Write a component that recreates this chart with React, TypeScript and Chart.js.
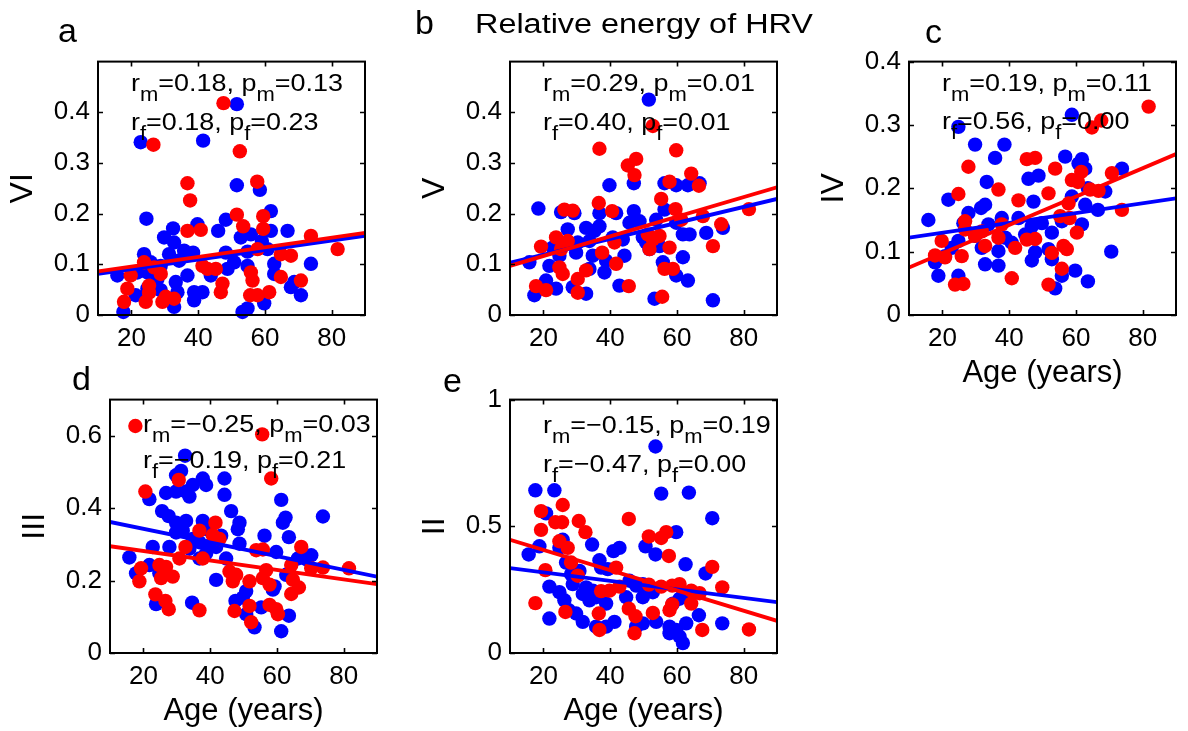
import React, { useEffect, useRef } from "react";
import { Chart, registerables } from "chart.js";

Chart.register(...registerables);

const FONT = '"Liberation Sans", Arial, Helvetica, sans-serif';

// ---------- shared axis data ----------
const AGE_RANGE = [10, 90];
const AGE_TICKS = [20, 40, 60, 80];

// ---------- panel a : VI ----------
const A_MALE: number[][] = [[22.8,0.341],[41.5,0.344],[51.6,0.416],[51.6,0.256],[58.5,0.247],[24.5,0.19],[39.8,0.179],[32.5,0.171],[48.3,0.188],[46,0.166],[61.8,0.205],[61.8,0.166],[66.8,0.166],[29.8,0.153],[32.8,0.143],[52.8,0.153],[55.8,0.159],[59.1,0.146],[60.8,0.13],[35.8,0.127],[38.5,0.123],[23.8,0.12],[48.3,0.123],[54.8,0.125],[50.8,0.104],[25.8,0.104],[34.3,0.107],[62.8,0.101],[73.8,0.101],[15.8,0.078],[21.8,0.084],[27.8,0.071],[33.3,0.065],[36.8,0.078],[62.8,0.081],[68.8,0.065],[21.3,0.039],[24.8,0.052],[28.8,0.049],[33.8,0.045],[38.8,0.045],[41.3,0.045],[38.8,0.029],[32.8,0.016],[17.6,0.006],[53.3,0.006],[54.8,0.013],[59.8,0.023],[70.8,0.039],[31.3,0.12],[28.8,0.097],[43.8,0.078],[48.8,0.091],[54.8,0.097],[67.8,0.055],[24.8,0.084]];
const A_FEMALE: number[][] = [[47.6,0.418],[26.6,0.336],[52.5,0.323],[36.8,0.26],[57.7,0.263],[37.6,0.226],[51.6,0.198],[59.5,0.195],[53.5,0.175],[36.8,0.166],[40.8,0.168],[59.5,0.17],[73.8,0.156],[81.8,0.13],[57.8,0.13],[64.8,0.12],[67.8,0.117],[23.8,0.104],[26.8,0.094],[28.8,0.081],[41.3,0.097],[45.3,0.091],[19.8,0.078],[18.8,0.052],[25.3,0.058],[25.3,0.044],[30.3,0.036],[32.8,0.032],[46.8,0.045],[47.3,0.062],[55.8,0.084],[56.3,0.068],[55.6,0.039],[57.8,0.039],[61.3,0.045],[64.8,0.075],[70.8,0.068],[17.8,0.026],[24.3,0.026],[42.8,0.091],[29.3,0.026]];
const A_FIT_M = [0.081, 0.156];
const A_FIT_F = [0.086, 0.162];
const A_STATS = ["0.18", "0.13", "0.18", "0.23"];
const A_YTICKS = [0, 0.1, 0.2, 0.3, 0.4];

// ---------- panel b : V ----------
const B_MALE: number[][] = [[51.6,0.425],[18.5,0.21],[25.3,0.203],[29.3,0.201],[39.8,0.256],[47.1,0.26],[56.3,0.26],[59.8,0.256],[63.3,0.256],[66.8,0.26],[36.8,0.201],[41.8,0.201],[47.1,0.205],[56.3,0.208],[27.3,0.169],[32.8,0.172],[35.3,0.166],[36.8,0.175],[45.8,0.182],[48.8,0.185],[53.8,0.188],[59.8,0.182],[61.8,0.159],[63.8,0.159],[68.8,0.162],[73.8,0.172],[22.8,0.133],[30.3,0.143],[33.8,0.146],[40.8,0.153],[43.8,0.149],[49.8,0.153],[50.8,0.143],[15.8,0.104],[21.8,0.097],[24.8,0.117],[29.8,0.123],[34.8,0.117],[44.3,0.117],[51.8,0.13],[61.8,0.114],[20.8,0.068],[23.8,0.052],[28.8,0.055],[33.8,0.091],[38.3,0.084],[42.8,0.058],[59.8,0.078],[63.3,0.068],[17.3,0.039],[32.8,0.042],[53.3,0.032],[70.8,0.029],[38.8,0.107],[54.8,0.136],[55.8,0.104]];
const B_FEMALE: number[][] = [[52.8,0.373],[36.8,0.328],[59.8,0.325],[45.3,0.295],[47.8,0.308],[47.3,0.276],[64.3,0.279],[66.6,0.255],[57.8,0.263],[26.3,0.208],[28.8,0.206],[36.6,0.221],[40.6,0.205],[55.3,0.229],[59.6,0.209],[61.3,0.188],[67.8,0.195],[81.6,0.209],[73.3,0.179],[23.8,0.153],[27.3,0.146],[19.3,0.135],[25.3,0.13],[51.3,0.159],[54.8,0.156],[52.8,0.149],[41.3,0.143],[51.8,0.13],[57.8,0.133],[70.8,0.136],[37.6,0.123],[41.8,0.101],[24.8,0.094],[25.8,0.081],[56.3,0.091],[58.8,0.091],[32.8,0.088],[30.3,0.071],[17.8,0.057],[20.8,0.049],[30.3,0.044],[45.6,0.057],[55.6,0.036]];
const B_FIT_M = [0.103, 0.229];
const B_FIT_F = [0.097, 0.252];
const B_STATS = ["0.29", "0.01", "0.40", "0.01"];
const B_YTICKS = [0, 0.1, 0.2, 0.3, 0.4];

// ---------- panel c : IV ----------
const C_MALE: number[][] = [[58.8,0.316],[24.8,0.297],[29.8,0.269],[38.6,0.269],[35.8,0.248],[56.8,0.25],[61.8,0.246],[60.8,0.239],[62.8,0.231],[73.8,0.231],[45.8,0.215],[48.8,0.22],[33.3,0.21],[63.6,0.2],[68.8,0.195],[21.8,0.182],[47.3,0.179],[58.8,0.187],[32.8,0.174],[31.6,0.169],[62.8,0.174],[66.6,0.166],[15.8,0.15],[27.8,0.161],[26.3,0.145],[33.8,0.143],[37.8,0.153],[42.8,0.153],[46.8,0.14],[49.8,0.145],[55.8,0.148],[61.8,0.143],[29.8,0.125],[38.8,0.122],[44.8,0.127],[52.8,0.13],[24.8,0.117],[22.8,0.106],[31.8,0.106],[36.8,0.101],[40.8,0.114],[47.8,0.099],[51.8,0.104],[17.8,0.083],[20.8,0.093],[32.8,0.08],[36.8,0.078],[46.8,0.086],[52.8,0.088],[70.6,0.1],[18.8,0.062],[24.8,0.062],[59.8,0.07],[53.8,0.042],[63.6,0.053],[55.8,0.062]];
const C_FEMALE: number[][] = [[81.8,0.329],[67.6,0.307],[64.8,0.296],[45.3,0.246],[47.8,0.248],[27.8,0.234],[53.8,0.231],[61.6,0.226],[70.8,0.224],[58.8,0.213],[60.6,0.21],[24.8,0.191],[36.8,0.198],[51.8,0.192],[42.8,0.181],[64.3,0.198],[66.8,0.196],[73.8,0.166],[57.8,0.176],[55.3,0.156],[58.1,0.153],[60.3,0.13],[26.8,0.148],[26.8,0.135],[31.8,0.132],[29.8,0.125],[37.8,0.143],[36.8,0.122],[32.8,0.109],[41.8,0.106],[45.3,0.119],[47.8,0.12],[56.3,0.109],[57.3,0.104],[19.8,0.117],[17.8,0.094],[20.8,0.091],[25.8,0.093],[52.8,0.098],[55.8,0.073],[40.8,0.058],[23.8,0.048],[26.3,0.049],[51.8,0.048]];
const C_FIT_M = [0.122, 0.184];
const C_FIT_F = [0.075, 0.254];
const C_STATS = ["0.19", "0.11", "0.56", "0.00"];
const C_YTICKS = [0, 0.1, 0.2, 0.3, 0.4];

// ---------- panel d : III ----------
const D_MALE: number[][] = [[32.5,0.545],[31.3,0.503],[29.8,0.491],[37.8,0.482],[44.3,0.482],[38.8,0.464],[34.8,0.464],[32.8,0.446],[26.8,0.442],[29.8,0.446],[21.8,0.425],[33.8,0.432],[44.3,0.437],[61.3,0.423],[25.6,0.392],[27.6,0.378],[46.3,0.392],[62.6,0.374],[61.8,0.36],[73.8,0.377],[29.8,0.36],[32.8,0.365],[37.8,0.365],[48.8,0.36],[48.3,0.342],[29.8,0.333],[31.8,0.338],[38.8,0.342],[43.3,0.324],[56.3,0.324],[63.6,0.32],[34.8,0.315],[36.8,0.306],[39.8,0.297],[48.8,0.302],[22.8,0.293],[27.8,0.293],[33.8,0.288],[41.8,0.293],[59.8,0.279],[15.8,0.264],[36.8,0.261],[38.8,0.275],[44.8,0.261],[66.3,0.261],[70.3,0.27],[68.8,0.259],[17.8,0.22],[21.8,0.243],[24.8,0.22],[41.8,0.202],[62.8,0.216],[58.8,0.175],[59.3,0.184],[50.8,0.171],[49.8,0.153],[47.6,0.144],[23.8,0.135],[34.6,0.139],[55.3,0.126],[50.8,0.107],[53.3,0.071],[63.6,0.103],[61.3,0.06]];
const D_FEMALE: number[][] = [[17.6,0.627],[55.6,0.604],[58.3,0.482],[30.6,0.478],[20.6,0.446],[41.6,0.36],[36.8,0.338],[40.8,0.326],[42.8,0.315],[32.6,0.293],[67.3,0.293],[55.8,0.286],[53.8,0.284],[37.8,0.261],[30.8,0.261],[24.8,0.243],[26.8,0.238],[64.3,0.243],[70.3,0.234],[73.8,0.236],[81.6,0.234],[19.3,0.234],[28.8,0.211],[45.8,0.225],[47.8,0.216],[56.8,0.229],[25.3,0.207],[18.8,0.198],[46.8,0.198],[51.8,0.198],[55.8,0.207],[57.8,0.189],[64.8,0.202],[66.6,0.181],[64.3,0.163],[23.6,0.162],[26.6,0.144],[27.6,0.121],[36.8,0.118],[47.3,0.116],[51.8,0.13],[57.8,0.133],[59.8,0.121],[60.3,0.107],[52.3,0.085]];
const D_FIT_M = [0.362, 0.211];
const D_FIT_F = [0.295, 0.19];
const D_STATS = ["\u22120.25", "0.03", "\u22120.19", "0.21"];
const D_YTICKS = [0, 0.2, 0.4, 0.6];

// ---------- panel e : II ----------
const E_MALE: number[][] = [[53.6,0.815],[17.6,0.642],[23.3,0.642],[55.3,0.629],[63.6,0.633],[70.6,0.532],[20.8,0.551],[59.8,0.477],[25.8,0.447],[50.6,0.421],[53.6,0.389],[42.8,0.415],[41,0.402],[34.6,0.428],[15.6,0.389],[18.8,0.421],[24.8,0.415],[36.8,0.366],[62.6,0.35],[68.6,0.314],[26.8,0.357],[28.3,0.311],[30.8,0.324],[37.3,0.337],[39.3,0.331],[45.8,0.285],[47.8,0.266],[49.8,0.272],[21.8,0.262],[24.8,0.24],[28.8,0.272],[32.8,0.259],[34.8,0.246],[31.8,0.233],[33.8,0.208],[35.8,0.22],[26.3,0.208],[38.8,0.195],[44.8,0.22],[49.8,0.22],[52.8,0.24],[58.8,0.195],[60.8,0.214],[64.3,0.233],[27.6,0.169],[21.8,0.136],[29.8,0.156],[31.8,0.123],[41.3,0.123],[38.8,0.104],[47.8,0.104],[49.8,0.117],[53.8,0.123],[57.8,0.104],[59.8,0.091],[62.8,0.117],[66.6,0.149],[73.6,0.117],[61.8,0.039],[60.8,0.065],[57.8,0.078],[35.8,0.104]];
const E_FEMALE: number[][] = [[25.8,0.584],[19.3,0.56],[23.6,0.516],[25.6,0.516],[30.6,0.521],[45.6,0.529],[19.3,0.486],[32.6,0.477],[56.8,0.477],[55.3,0.454],[51.6,0.46],[24.8,0.441],[27.3,0.415],[57.6,0.383],[28.3,0.357],[20.6,0.327],[30.3,0.305],[41.8,0.337],[70.6,0.34],[51.6,0.27],[55.3,0.262],[42.8,0.262],[37.3,0.244],[39.8,0.246],[58.6,0.266],[60.8,0.272],[64.3,0.246],[66.8,0.236],[73.6,0.259],[17.6,0.197],[26.6,0.162],[36.6,0.156],[45.6,0.175],[47.6,0.145],[52.8,0.158],[57.8,0.169],[58.6,0.192],[64.3,0.195],[36.8,0.091],[47.3,0.078],[67.6,0.091],[81.6,0.093]];
const E_FIT_M = [0.335, 0.201];
const E_FIT_F = [0.447, 0.127];
const E_STATS = ["\u22120.15", "0.19", "\u22120.47", "0.00"];
const E_YTICKS = [0, 0.5, 1];

// ---------- layout (positions only) ----------
const PLOT_W = 267;
const PLOT_H = 257;
const YW = 98;
const TP = 20;
const RP = 12;
const XH = 75;
const BLUE = "#0000FF";
const RED = "#FF0000";

type PanelSpec = {
  letter: string;
  roman: string;
  male: number[][];
  female: number[][];
  fitM: number[];
  fitF: number[];
  stats: string[];
  yTicks: number[];
  yMax: number;
  ageTitle: boolean;
  left: number;
  top: number;
  textBase: number[];
};

const PANELS: PanelSpec[] = [
  { letter: "a", roman: "VI", male: A_MALE, female: A_FEMALE, fitM: A_FIT_M, fitF: A_FIT_F, stats: A_STATS, yTicks: A_YTICKS, yMax: 0.5, ageTitle: false, left: 98, top: 58, textBase: [29, 68.5] },
  { letter: "b", roman: "V", male: B_MALE, female: B_FEMALE, fitM: B_FIT_M, fitF: B_FIT_F, stats: B_STATS, yTicks: B_YTICKS, yMax: 0.5, ageTitle: false, left: 510, top: 58, textBase: [29, 68.5] },
  { letter: "c", roman: "IV", male: C_MALE, female: C_FEMALE, fitM: C_FIT_M, fitF: C_FIT_F, stats: C_STATS, yTicks: C_YTICKS, yMax: 0.4, ageTitle: true, left: 909, top: 58, textBase: [29, 67] },
  { letter: "d", roman: "III", male: D_MALE, female: D_FEMALE, fitM: D_FIT_M, fitF: D_FIT_F, stats: D_STATS, yTicks: D_YTICKS, yMax: 0.7, ageTitle: true, left: 110, top: 396, textBase: [32, 68.5] },
  { letter: "e", roman: "II", male: E_MALE, female: E_FEMALE, fitM: E_FIT_M, fitF: E_FIT_F, stats: E_STATS, yTicks: E_YTICKS, yMax: 1, ageTitle: true, left: 510, top: 396, textBase: [33.5, 72] },
];

const LETTERS = [
  { t: "a", left: 58, baseline: 42 },
  { t: "b", left: 415, baseline: 33.5 },
  { t: "c", left: 925, baseline: 43 },
  { t: "d", left: 72, baseline: 390 },
  { t: "e", left: 443, baseline: 392 },
];

const framePlugin = {
  id: "frame",
  afterDatasetsDraw(chart: any, _args: any, opts: any) {
    const { ctx, chartArea } = chart;
    const { left, top, right, bottom } = chartArea;
    const xs = chart.scales.x;
    const ys = chart.scales.y;
    ctx.save();
    ctx.strokeStyle = "#000";
    ctx.lineWidth = 1.6;
    ctx.beginPath();
    for (const t of xs.ticks) {
      const px = Math.round(xs.getPixelForValue(t.value)) + 0.5;
      ctx.moveTo(px, bottom);
      ctx.lineTo(px, bottom - 5);
      ctx.moveTo(px, top);
      ctx.lineTo(px, top + 5);
    }
    for (const t of ys.ticks) {
      const py = Math.round(ys.getPixelForValue(t.value)) + 0.5;
      ctx.moveTo(left, py);
      ctx.lineTo(left + 5, py);
      ctx.moveTo(right, py);
      ctx.lineTo(right - 5, py);
    }
    ctx.stroke();
    ctx.lineWidth = 2;
    ctx.strokeRect(left, top, right - left, bottom - top);

    // annotation text with subscripts
    const s: string[] = opts.stats;
    const lines = [
      { segs: [["r", 0], ["m", 1], ["=" + s[0] + ", p", 0], ["m", 1], ["=" + s[1], 0]], base: opts.textBase[0] },
      { segs: [["r", 0], ["f", 1], ["=" + s[2] + ", p", 0], ["f", 1], ["=" + s[3], 0]], base: opts.textBase[1] },
    ];
    ctx.fillStyle = "#000";
    ctx.textAlign = "left";
    ctx.textBaseline = "alphabetic";
    for (const ln of lines) {
      ctx.save();
      ctx.translate(left + 33, top + ln.base);
      ctx.scale(1.1, 1);
      let x = 0;
      for (const [txt, sub] of ln.segs as any) {
        ctx.font = `${sub ? 20 : 24.5}px ${FONT}`;
        ctx.fillText(txt, x, sub ? 10 : 0);
        x += ctx.measureText(txt).width;
      }
      ctx.restore();
    }
    ctx.restore();
  },
};

function fmt(v: number) {
  return String(Number(v.toFixed(3)));
}

function PanelChart({ p }: { p: PanelSpec }) {
  const ref = useRef<HTMLCanvasElement | null>(null);
  const width = YW + PLOT_W + RP;
  const height = TP + PLOT_H + XH;

  useEffect(() => {
    if (!ref.current) return;
    const toPts = (arr: number[][]) => arr.map(([x, y]) => ({ x, y }));
    const fit = (f: number[]) => [
      { x: AGE_RANGE[0], y: f[0] },
      { x: AGE_RANGE[1], y: f[1] },
    ];
    const chart = new Chart(ref.current, {
      type: "scatter",
      data: {
        datasets: [
          { type: "line", data: fit(p.fitF), borderColor: RED, borderWidth: 3.8, pointRadius: 0, order: 0, fill: false } as any,
          { type: "line", data: fit(p.fitM), borderColor: BLUE, borderWidth: 3.8, pointRadius: 0, order: 1, fill: false } as any,
          { data: toPts(p.female), backgroundColor: RED, borderWidth: 0, pointRadius: 7.2, order: 2, clip: false } as any,
          { data: toPts(p.male), backgroundColor: BLUE, borderWidth: 0, pointRadius: 7.2, order: 3, clip: false } as any,
        ],
      },
      options: {
        animation: false,
        responsive: false,
        maintainAspectRatio: false,
        devicePixelRatio: 1,
        events: [],
        layout: { padding: { left: 0, top: TP, right: RP, bottom: 0 } },
        plugins: {
          legend: { display: false },
          tooltip: { enabled: false },
          frame: { stats: p.stats, textBase: p.textBase },
        } as any,
        scales: {
          x: {
            type: "linear",
            min: AGE_RANGE[0],
            max: AGE_RANGE[1],
            afterBuildTicks: (s: any) => {
              s.ticks = AGE_TICKS.map((v) => ({ value: v }));
            },
            afterFit: (s: any) => {
              s.height = XH;
            },
            grid: { display: false, drawTicks: false },
            border: { display: false },
            ticks: {
              color: "#000",
              font: { family: FONT, size: 26 },
              padding: 8,
              maxRotation: 0,
              autoSkip: false,
              callback: (v: any) => fmt(Number(v)),
            },
            title: {
              display: p.ageTitle,
              text: "Age (years)",
              color: "#000",
              font: { family: FONT, size: 31, lineHeight: 1 },
              padding: { top: 0, bottom: 1.5 },
            },
          },
          y: {
            type: "linear",
            min: 0,
            max: p.yMax,
            afterBuildTicks: (s: any) => {
              s.ticks = p.yTicks.map((v) => ({ value: v }));
            },
            afterFit: (s: any) => {
              s.width = YW;
            },
            grid: { display: false, drawTicks: false },
            border: { display: false },
            ticks: {
              color: "#000",
              font: { family: FONT, size: 26 },
              padding: 8,
              autoSkip: false,
              callback: (v: any) => fmt(Number(v)),
            },
            title: {
              display: true,
              text: p.roman,
              color: "#000",
              font: { family: FONT, size: 32, lineHeight: 1 },
              padding: { top: 7, bottom: 0 },
            },
          },
        },
      } as any,
      plugins: [framePlugin as any],
    });
    return () => chart.destroy();
  }, [p]);

  return (
    <canvas
      ref={ref}
      width={width}
      height={height}
      style={{
        position: "absolute",
        left: p.left - YW,
        top: p.top - TP,
        width,
        height,
      }}
    />
  );
}

export default function App() {
  return (
    <div
      style={{
        position: "absolute",
        left: 0,
        top: 0,
        width: 1188,
        height: 731,
        overflow: "hidden",
        background: "#fff",
        fontFamily: FONT,
        color: "#000",
      }}
    >
      {PANELS.map((p) => (
        <PanelChart key={p.letter} p={p} />
      ))}
      {LETTERS.map((l) => (
        <span
          key={l.t}
          style={{
            position: "absolute",
            left: l.left,
            top: l.baseline - 0.8465 * 34,
            fontSize: 34,
            lineHeight: "34px",
            whiteSpace: "nowrap",
          }}
        >
          {l.t}
        </span>
      ))}
      <span
        style={{
          position: "absolute",
          left: 475,
          top: 33.5 - 0.8465 * 27,
          fontSize: 27,
          lineHeight: "27px",
          whiteSpace: "nowrap",
          transform: "scaleX(1.2)",
          transformOrigin: "left top",
        }}
      >
        Relative energy of HRV
      </span>
    </div>
  );
}
